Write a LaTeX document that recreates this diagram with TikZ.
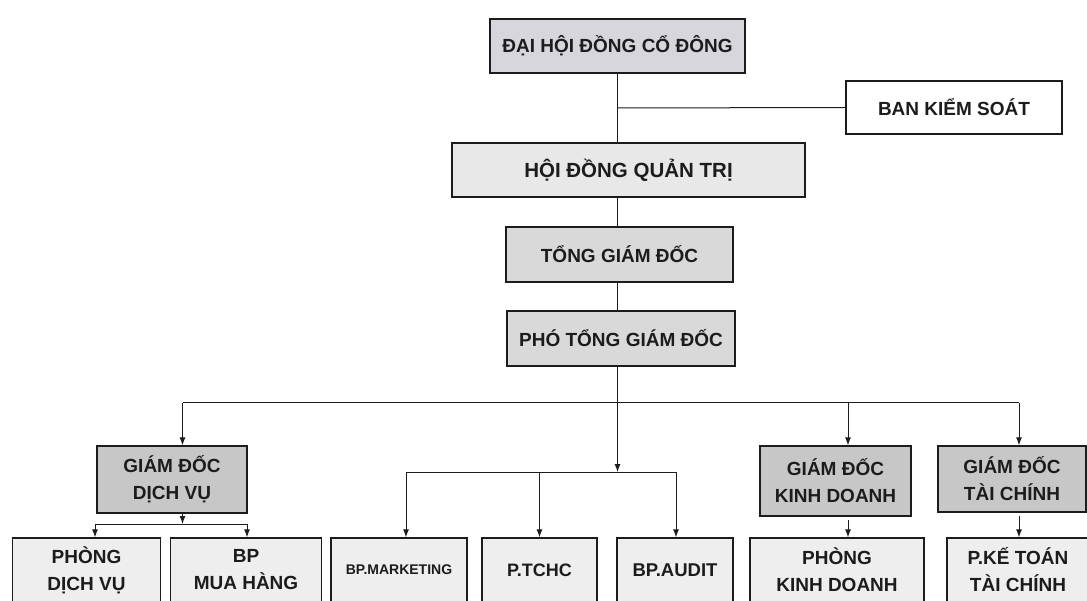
\documentclass[tikz,border=0pt]{standalone}
\usepackage{fontspec}
\setmainfont{Liberation Sans}
\usetikzlibrary{arrows.meta}
\definecolor{cTop}{HTML}{D8D6DD}
\definecolor{cHd}{HTML}{E8E8E8}
\definecolor{cTg}{HTML}{D9D9D9}
\definecolor{cGd}{HTML}{C7C7C7}
\definecolor{cLow}{HTML}{EEEEEE}
\definecolor{cInk}{HTML}{1C1C1C}
\tikzset{
  box/.style={draw=cInk, line width=1.3pt, align=center, inner sep=0pt, text=cInk,
    font=\bfseries\fontsize{19}{27}\selectfont},
  conn/.style={draw=cInk, line width=1pt},
  arr/.style={conn, -{Latex[length=8pt,width=6pt]}},
}
\begin{document}
\begin{tikzpicture}[x=1pt,y=-1pt]
\useasboundingbox (0,0) rectangle (1087,601);
\clip (0,0) rectangle (1087,601);
\fill[white] (0,0) rectangle (1087,601);
% top chain
\node[box, fill=cTop, minimum width=255pt, minimum height=54pt] (dh) at (617.5,46) {ĐẠI HỘI ĐỒNG CỔ ĐÔNG};
\node[box, fill=white, minimum width=216pt, minimum height=53pt] (bks) at (954,107.5) {BAN KIỂM SOÁT};
\node[box, fill=cHd, minimum width=353pt, minimum height=54pt, font=\bfseries\fontsize{20.5}{27}\selectfont] (hdqt) at (628.5,170) {HỘI ĐỒNG QUẢN TRỊ};
\node[box, fill=cTg, minimum width=227pt, minimum height=55pt] (tgd) at (619.5,254.5) {TỔNG GIÁM ĐỐC};
\node[box, fill=cTg, minimum width=228pt, minimum height=55pt] (ptgd) at (621,338.5) {PHÓ TỔNG GIÁM ĐỐC};
% directors
\node[box, fill=cGd, minimum width=150pt, minimum height=67pt] (gddv) at (172,479.5) {GIÁM ĐỐC\\DỊCH VỤ};
\node[box, fill=cGd, minimum width=151pt, minimum height=70pt] (gdkd) at (835.5,481) {GIÁM ĐỐC\\KINH DOANH};
\node[box, fill=cGd, minimum width=148pt, minimum height=66pt] (gdtc) at (1012,479) {GIÁM ĐỐC\\TÀI CHÍNH};
% bottom row
\node[box, fill=cLow, minimum width=148pt, minimum height=64pt] (pdv) at (86.5,570) {PHÒNG\\DỊCH VỤ};
\node[box, fill=cLow, minimum width=151pt, minimum height=64pt] (bpmh) at (246,570) {BP\\MUA HÀNG};
\node[box, fill=cLow, minimum width=136pt, minimum height=64pt, font=\bfseries\fontsize{14}{20}\selectfont] (mkt) at (399,570) {BP.MARKETING};
\node[box, fill=cLow, minimum width=115pt, minimum height=64pt, font=\bfseries\fontsize{18}{27}\selectfont] (tchc) at (539.5,570) {P.TCHC};
\node[box, fill=cLow, minimum width=116pt, minimum height=64pt, font=\bfseries\fontsize{18.5}{27}\selectfont] (audit) at (675,570) {BP.AUDIT};
\node[box, fill=cLow, minimum width=174pt, minimum height=64pt] (pkd) at (837,570) {PHÒNG\\KINH DOANH};
\node[box, fill=cLow, minimum width=142pt, minimum height=64pt] (pktc) at (1018,570) {P.KẾ TOÁN\\TÀI CHÍNH};
% junction coordinates
\coordinate (hA) at (617.5,108);
\coordinate (hL) at (182.5,403);
\coordinate (hK) at (848,403);
\coordinate (hR) at (1019,403);
\coordinate (sL) at (406,472);
\coordinate (sC) at (617.5,472);
\coordinate (sR) at (676,472);
\coordinate (dvJ) at (182.5,524);
\coordinate (dvL) at (95,524);
\coordinate (dvR) at (247,524);
% connectors top
\draw[conn] (dh.south) -- (dh.south |- hdqt.north);
\draw[conn] (hA) -- (bks.west);
\draw[conn] (hdqt.south -| hA) -- (tgd.north -| hA);
\draw[conn] (tgd.south -| hA) -- (ptgd.north -| hA);
\draw[arr] (ptgd.south -| hA) -- (sC);
% main distribution
\draw[conn] (hL) -- (hR);
\draw[arr] (hL) -- (gddv.north -| hL);
\draw[arr] (hK) -- (gdkd.north -| hK);
\draw[arr] (hR) -- (gdtc.north -| hR);
% middle group
\draw[conn] (sL) -- (sR);
\draw[arr] (sL) -- (mkt.north -| sL);
\draw[arr] (tchc.north |- sL) -- (tchc.north);
\draw[arr] (sR) -- (audit.north -| sR);
% service group
\draw[arr] (gddv.south -| dvJ) -- (dvJ);
\draw[conn] (dvL) -- (dvR);
\draw[arr] (dvL) -- (pdv.north -| dvL);
\draw[arr] (dvR) -- (bpmh.north -| dvR);
% business and finance
\draw[arr, shorten <=3pt] (gdkd.south -| hK) -- (pkd.north -| hK);
\draw[arr, shorten <=3pt] (gdtc.south -| hR) -- (pktc.north -| hR);
\end{tikzpicture}
\end{document}
